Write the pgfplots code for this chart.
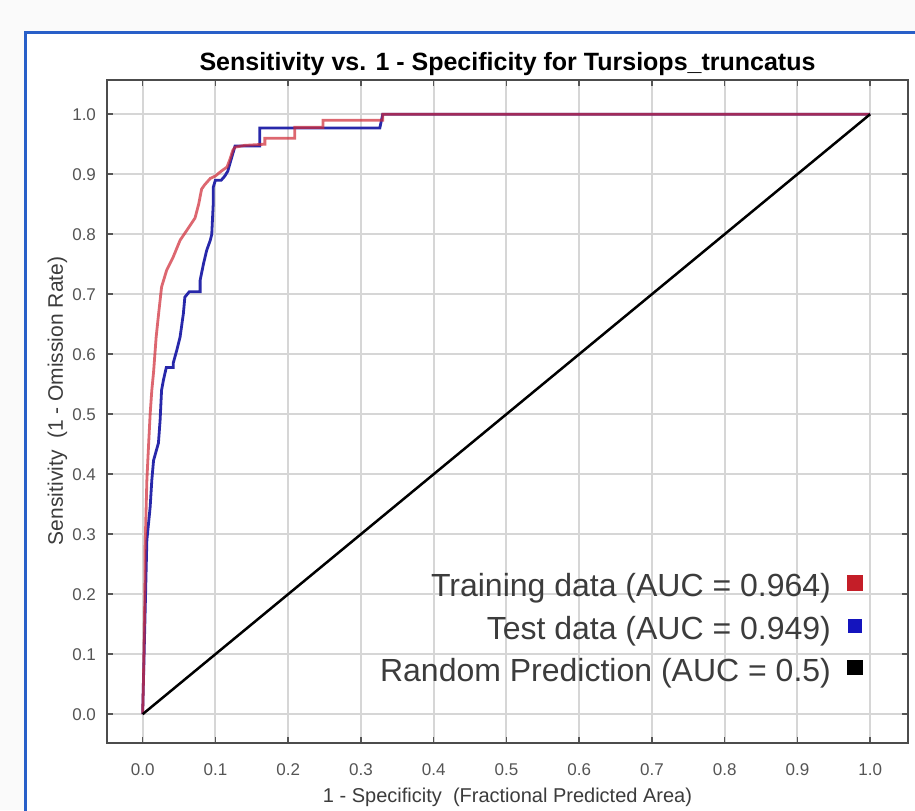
\documentclass[border=0pt]{standalone}
\usepackage{fontspec}
\setmainfont{Liberation Sans}
\usepackage{pgfplots}
\pgfplotsset{compat=1.18}

\definecolor{framebl}{RGB}{40,95,200}
\definecolor{trainred}{RGB}{208,45,58}
\definecolor{testblue}{RGB}{40,40,170}
\definecolor{legred}{RGB}{196,30,40}
\definecolor{legblue}{RGB}{20,20,190}
\definecolor{txtgray}{RGB}{60,60,60}
\definecolor{tickgray}{RGB}{85,85,85}

% test data (blue)
\pgfplotstableread{
x y
0 0
0.002 0.10
0.004 0.20
0.0058 0.29
0.0103 0.345
0.0126 0.39
0.015 0.423
0.0217 0.452
0.024 0.49
0.026 0.54
0.0286 0.557
0.0325 0.578
0.042 0.578
0.042 0.585
0.047 0.607
0.0515 0.629
0.056 0.668
0.058 0.695
0.064 0.704
0.079 0.704
0.079 0.723
0.0835 0.75
0.088 0.773
0.093 0.79
0.095 0.80
0.097 0.85
0.097 0.878
0.100 0.89
0.108 0.89
0.113 0.897
0.117 0.905
0.121 0.922
0.127 0.947
0.161 0.947
0.161 0.977
0.326 0.977
0.33 1.0
1.0 1.0
}\testdata

% training data (red)
\pgfplotstableread{
x y
0 0
0.001 0.05
0.002 0.12
0.003 0.20
0.0034 0.28
0.0045 0.33
0.0058 0.39
0.008 0.445
0.0103 0.50
0.0126 0.54
0.015 0.57
0.0186 0.629
0.022 0.668
0.026 0.712
0.033 0.74
0.042 0.762
0.0515 0.79
0.061 0.807
0.066 0.816
0.072 0.827
0.077 0.85
0.081 0.875
0.085 0.882
0.093 0.893
0.100 0.897
0.108 0.905
0.116 0.912
0.120 0.925
0.124 0.94
0.127 0.945
0.140 0.948
0.168 0.950
0.168 0.960
0.209 0.960
0.209 0.978
0.248 0.978
0.248 0.99
0.33 0.99
0.33 1.0
1.0 1.0
}\traindata

\begin{document}
\begin{tikzpicture}
\useasboundingbox (0,0) rectangle (457.5pt,405pt);
\clip (0,0) rectangle (457.5pt,405pt);
\fill[gray!4] (0,0) rectangle (457.5pt,405pt);
\fill[white] (12.5pt,-5pt) rectangle (470pt,388.5pt);
\draw[framebl, line width=1.5pt] (12.5pt,-5pt) -- (12.5pt,388.5pt) -- (470pt,388.5pt);
\begin{axis}[
    at={(53.5pt,33.5pt)}, anchor=south west,
    scale only axis, width=400.5pt, height=331.5pt,
    xmin=-0.049, xmax=1.052, ymin=-0.048, ymax=1.057,
    xtick={0,0.1,...,1.0}, ytick={0,0.1,...,1.0},
    /pgf/number format/fixed,
    /pgf/number format/fixed zerofill,
    /pgf/number format/precision=1,
    /pgf/number format/assume math mode=true,
    tick label style={font=\fontsize{8.5}{10}\selectfont, text=tickgray},
    xticklabel style={yshift=-7pt},
    yticklabel style={xshift=-2pt},
    tick align=inside, tick pos=both,
    major tick length=3pt,
    every tick/.style={tickgray, line width=0.8pt},
    grid=major,
    major grid style={gray!32, line width=1pt},
    axis line style={draw=black!70, line width=1.2pt},
    title={Sensitivity vs. 1 - Specificity for Tursiops\_truncatus},
    every axis title/.style={at={(axis description cs:0.5,1)}, anchor=base, yshift=4.5pt,
                 font=\fontsize{12.5}{14}\selectfont\bfseries},
    xlabel={1 - Specificity\ \ (Fractional Predicted Area)},
    ylabel={Sensitivity\ \ (1 - Omission Rate)},
    every axis x label/.style={at={(axis description cs:0.5,-0.082)}, anchor=center,
                 font=\fontsize{10}{12}\selectfont, text=txtgray},
    every axis y label/.style={at={(axis description cs:-0.062,0.516)}, anchor=center,
                 rotate=90, font=\fontsize{10.5}{12}\selectfont, text=txtgray},
    legend plot pos=right,
    legend cell align=right,
    legend style={at={(axis description cs:0.944,0.262)}, anchor=north east,
                  draw=none, fill=none, inner sep=0pt, row sep=4pt, column sep=6pt,
                  nodes={inner sep=2pt},
                  font=\fontsize{16}{18}\selectfont, text=txtgray},
]
\addplot[testblue, line width=1.4pt, forget plot] table[x=x, y=y] {\testdata};
\addplot[trainred, line width=1.4pt, opacity=0.72,
    legend image code/.code={\fill[legred, opacity=1] (2pt,-1.5pt) rectangle (8.5pt,5pt);}]
    table[x=x, y=y] {\traindata};
\addlegendentry{Training data (AUC = 0.964)}
\addlegendimage{legend image code/.code={\fill[legblue] (2pt,-1.5pt) rectangle (8.5pt,5pt);}}
\addlegendentry{Test data (AUC = 0.949)}
\addplot[black, line width=1.25pt,
    legend image code/.code={\fill[black] (2pt,-1.5pt) rectangle (8.5pt,5pt);}]
    coordinates {(0,0) (1,1)};
\addlegendentry{Random Prediction (AUC = 0.5)}
\end{axis}
\end{tikzpicture}
\end{document}
